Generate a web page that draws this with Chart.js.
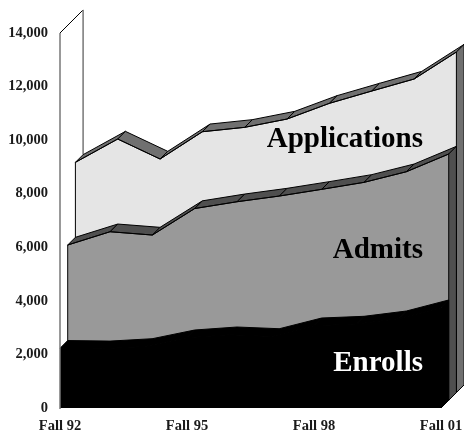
<!DOCTYPE html>
<html>
<head>
<meta charset="utf-8">
<style>html,body{margin:0;padding:0;background:#fff}canvas{display:block}</style>
<script src="https://cdn.jsdelivr.net/npm/chart.js@4"></script>
</head>
<body>
<canvas id="c" width="464" height="434"></canvas>
<script>
const categories = ['Fall 92','Fall 93','Fall 94','Fall 95','Fall 96','Fall 97','Fall 98','Fall 99','Fall 00','Fall 01'];
const xTickIndexes = [0,3,6,9];
const yTicks = [0,2000,4000,6000,8000,10000,12000,14000];
const enrolls = [2230,2210,2300,2624,2736,2672,3072,3136,3333,3744];
const admits = [5797,6293,6170,7159,7413,7626,7876,8137,8533,9194];
const applications = [8596,9466,8720,9739,9903,10213,10799,11258,11706,12714];
const seriesNames = ['Enrolls','Admits','Applications'];

const SERIF = "'Liberation Serif', serif";
const DEPTH = 7.7;
const PX_PER_X = 381/9, PX_PER_Y = 375/14000;
const X_MAX = 404/PX_PER_X, Y_MAX = 398/PX_PER_Y;
const layers = [
  {front:'#000000', top:'#000000', wall:'#000000', label:'#ffffff', lx:423, ly:371},
  {front:'#999999', top:'#4f4f4f', wall:'#4f4f4f', label:'#000000', lx:423, ly:258},
  {front:'#e5e5e5', top:'#707070', wall:'#707070', label:'#000000', lx:423, ly:147}
];
const seriesValues = [enrolls, admits, applications];

function hiddenAxes(){
  const out = {};
  for (let k=1;k<=3;k++){
    const dx = k*DEPTH/PX_PER_X, dy = k*DEPTH/PX_PER_Y;
    out['x'+k] = {type:'linear',display:false,min:-dx,max:X_MAX-dx};
    out['y'+k] = {type:'linear',display:false,min:-dy,max:Y_MAX-dy};
  }
  return out;
}
function noPad(s){s.paddingLeft=0;s.paddingRight=0;s.paddingTop=0;s.paddingBottom=0;}
function sx(chart,k){return chart.scales[k===0?'x':'x'+k];}
function sy(chart,k){return chart.scales[k===0?'y':'y'+k];}
function P(chart,k,i,v){return [sx(chart,k).getPixelForValue(i), sy(chart,k).getPixelForValue(v)];}
function poly(ctx,pts,fill,stroke,w){
  ctx.beginPath();
  pts.forEach((p,i)=> i?ctx.lineTo(p[0],p[1]):ctx.moveTo(p[0],p[1]));
  ctx.closePath();
  if(fill){ctx.fillStyle=fill;ctx.fill();}
  if(stroke){ctx.strokeStyle=stroke;ctx.lineWidth=w||1;ctx.stroke();}
}
const depthPlugin = {
  id:'depth',
  beforeDatasetsDraw(chart){
    const c=chart.ctx;
    const a=P(chart,0,0,14000), b=P(chart,3,0,14000);
    c.save();
    c.strokeStyle='#000';c.lineWidth=1;
    c.beginPath();c.moveTo(a[0],a[1]);c.lineTo(b[0],b[1]);c.stroke();
    c.strokeStyle='#777';c.lineWidth=1.5;
    c.beginPath();c.moveTo(b[0],b[1]);c.lineTo(b[0],P(chart,3,0,applications[0])[1]);c.stroke();
    c.restore();
  },
  beforeDatasetDraw(chart,args){
    const k=args.index, vals=seriesValues[k], st=layers[k], c=chart.ctx, n=vals.length-1;
    c.save();
    c.lineJoin='round';
    for(let i=0;i<n;i++){
      poly(c,[P(chart,k,i,vals[i]),P(chart,k,i+1,vals[i+1]),P(chart,k+1,i+1,vals[i+1]),P(chart,k+1,i,vals[i])],st.top,'#000',1);
    }
    poly(c,[P(chart,k,n,0),P(chart,k,n,vals[n]),P(chart,k+1,n,vals[n]),P(chart,k+1,n,0)],st.wall,'#000',1);
    c.restore();
  },
  afterDatasetDraw(chart,args){
    const k=args.index, vals=seriesValues[k], c=chart.ctx;
    if(k>0){
      const t=P(chart,k,0,vals[0]), b=P(chart,k,0,0);
      c.save();c.strokeStyle='#000';c.lineWidth=1;
      c.beginPath();c.moveTo(t[0],t[1]);c.lineTo(b[0],b[1]);c.stroke();c.restore();
    }
  },
  afterDatasetsDraw(chart){
    const c=chart.ctx;
    const a=P(chart,0,0,14000), b=P(chart,0,0,0);
    c.save();
    c.strokeStyle='#777';c.lineWidth=1.5;
    c.beginPath();c.moveTo(a[0],a[1]);c.lineTo(b[0],b[1]+1);c.stroke();
    c.textAlign='right';c.textBaseline='alphabetic';
    c.font='bold 29px '+SERIF;
    layers.forEach((st,k)=>{c.fillStyle=st.label;c.fillText(seriesNames[k],st.lx,st.ly);});
    c.restore();
  }
};
new Chart(document.getElementById('c'),{
  type:'line',
  data:{
    datasets:seriesNames.map((name,k)=>({
      label:name,
      data:seriesValues[k].map((v,i)=>({x:i,y:v})),
      xAxisID:k===0?'x':'x'+k,
      yAxisID:k===0?'y':'y'+k,
      borderColor:'#000',borderWidth:1,backgroundColor:layers[k].front,
      fill:'origin',pointRadius:0,tension:0,clip:false
    }))
  },
  options:{
    responsive:false,animation:false,
    layout:{padding:{top:10,right:0,left:0,bottom:0}},
    plugins:{legend:{display:false},tooltip:{enabled:false},title:{display:false}},
    scales:{
      x:{type:'linear',min:0,max:X_MAX,grid:{display:false,drawTicks:false},border:{display:false},
        afterFit(s){s.height=26;noPad(s);},
        afterBuildTicks(s){s.ticks=xTickIndexes.map(v=>({value:v}));},
        ticks:{autoSkip:false,maxRotation:0,padding:10,color:'#1a1a1a',font:{family:SERIF,size:14.5,weight:'bold'},
          callback:v=>categories[v]}},
      y:{type:'linear',min:0,max:Y_MAX,grid:{display:false,drawTicks:false},border:{display:false},
        afterFit(s){s.width=60;noPad(s);},
        afterBuildTicks(s){s.ticks=yTicks.map(v=>({value:v}));},
        ticks:{padding:12,color:'#1a1a1a',font:{family:SERIF,size:14.5,weight:'bold'},
          callback:v=>v.toLocaleString('en-US')}},
      ...hiddenAxes()
    }
  },
  plugins:[depthPlugin]
});
</script>
</body>
</html>
